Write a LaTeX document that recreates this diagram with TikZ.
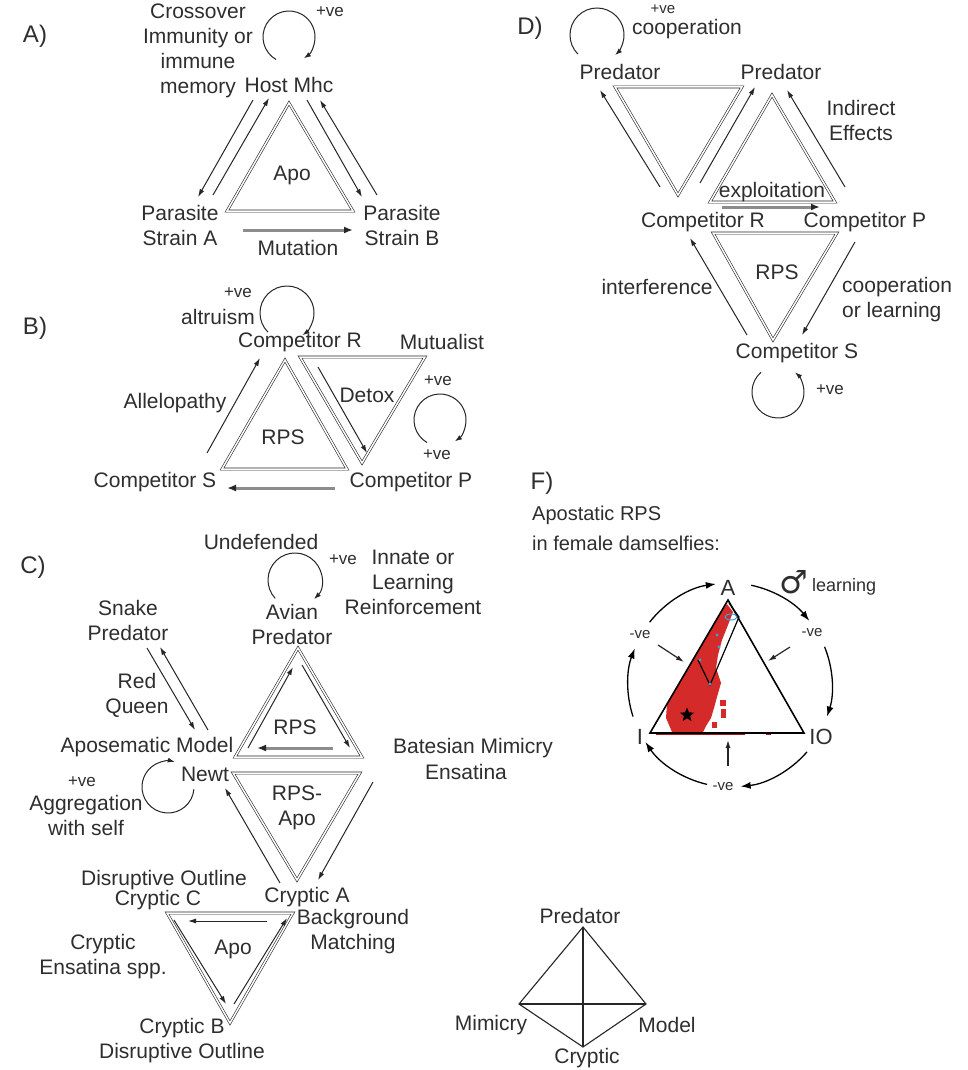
\documentclass[tikz,border=0pt]{standalone}
\usepackage{fontspec}
\setmainfont{Liberation Sans}
\newfontfamily\symfont{DejaVu Sans}
\usetikzlibrary{arrows.meta,shapes.geometric}
\definecolor{ln}{HTML}{262626}
\definecolor{txt}{HTML}{2E2E2E}
\definecolor{gline}{HTML}{8C8C8C}
\definecolor{rpsred}{HTML}{D42A2A}
\definecolor{darkred}{HTML}{A31818}
\definecolor{dotblue}{HTML}{3AA0DC}
\tikzset{
  lbl/.style={font=\fontsize{21}{25}\selectfont, text=txt, align=center, inner sep=0pt},
  smalltxt/.style={font=\fontsize{17}{20}\selectfont, text=txt, inner sep=0pt},
  tinytxt/.style={font=\fontsize{15}{18}\selectfont, text=txt, inner sep=0pt},
  panel/.style={font=\fontsize{24}{28}\selectfont, text=txt, inner sep=0pt},
  tri/.style={draw=ln, line width=0.6pt, double=white, double distance=1.5pt, line join=miter},
  arr/.style={draw=ln, line width=1pt, -{Latex[length=8pt,width=5pt]}},
  garr/.style={draw=gline, line width=3pt, -{Latex[length=9pt,width=7pt,color=ln]}},
  selfarc/.style={draw=ln, line width=1pt, -{Latex[length=7pt,width=5pt]}},
  farc/.style={draw=black, line width=1.3pt, -{Latex[length=10pt,width=7pt]}},
  tline/.style={draw=ln, line width=1.1pt},
}
\begin{document}
\begin{tikzpicture}[x=1pt,y=-1pt]
\useasboundingbox (0,0) rectangle (968,1070);
\fill[white] (0,0) rectangle (968,1070);

% ---------------- A) host / parasite strains ----------------
\node[panel] (labA) at (35,36) {A)};
\node[lbl] (cross) at (198,51) {Crossover\\Immunity or\\immune\\memory};
\node[smalltxt] (pveA) at (330,12) {+ve};
\draw[selfarc] (289,37) ++(120:26) arc[start angle=120,end angle=415,radius=26];
\node[lbl] (host) at (289,85) {Host Mhc};
\coordinate (a1) at (289,103); \coordinate (a2) at (227,211); \coordinate (a3) at (353,211);
\draw[tri] (a1) -- (a2) -- (a3) -- cycle;
\node[lbl] (apoA) at (292,175) {Apo};
\node[lbl] (parA) at (180,225) {Parasite\\Strain A};
\node[lbl] (parB) at (402,225) {Parasite\\Strain B};
\coordinate (aL1s) at (253,100); \coordinate (aL1e) at (198,197);
\coordinate (aL2s) at (213,195); \coordinate (aL2e) at (269,98);
\coordinate (aR1s) at (307,100); \coordinate (aR1e) at (362,197);
\coordinate (aR2s) at (377,195); \coordinate (aR2e) at (320,100);
\draw[arr] (aL1s) -- (aL1e);
\draw[arr] (aL2s) -- (aL2e);
\draw[arr] (aR1s) -- (aR1e);
\draw[arr] (aR2s) -- (aR2e);
\coordinate (mutS) at (243,230); \coordinate (mutE) at (353,230);
\draw[garr] (mutS) -- (mutE);
\node[lbl] (mut) at (298,248) {Mutation};

% ---------------- B) competitors and mutualist ----------------
\node[panel] (labB) at (35,328) {B)};
\node[smalltxt] (pveB1) at (238,293) {+ve};
\node[lbl] (altr) at (218,317) {altruism};
\draw[selfarc] (287,313) ++(135:27) arc[start angle=135,end angle=415,radius=27];
\node[lbl] (cR) at (300,342) {Competitor R};
\node[lbl] (mutu) at (442,342) {Mutualist};
\coordinate (b1) at (285,360); \coordinate (b2) at (222,469); \coordinate (b3) at (347,469);
\draw[tri] (b1) -- (b2) -- (b3) -- cycle;
\node[lbl] (rpsB) at (283,437) {RPS};
\coordinate (d1) at (300,357); \coordinate (d2) at (425,357); \coordinate (d3) at (362,463);
\draw[tri] (d1) -- (d2) -- (d3) -- cycle;
\node[lbl] (detox) at (367,395) {Detox};
\coordinate (dxS) at (318,367); \coordinate (dxE) at (367,453);
\draw[arr] (dxS) -- (dxE);
\node[lbl] (allel) at (175,403) {Allelopathy};
\coordinate (alS) at (207,453); \coordinate (alE) at (260,358);
\draw[arr] (alS) -- (alE);
\node[lbl] (cS) at (155,482) {Competitor S};
\node[lbl] (cP) at (411,482) {Competitor P};
\coordinate (bbS) at (335,488); \coordinate (bbE) at (227,488);
\draw[garr] (bbS) -- (bbE);
\node[smalltxt] (pveB2) at (438,381) {+ve};
\node[smalltxt] (pveB3) at (437,455) {+ve};
\draw[selfarc] (440,420) ++(120:26) arc[start angle=120,end angle=415,radius=26];

% ---------------- C) mimicry complex ----------------
\node[panel] (labC) at (33,567) {C)};
\node[lbl] (undef) at (261,542) {Undefended};
\node[smalltxt] (pveC1) at (343,560) {+ve};
\draw[selfarc] (295,580) ++(137:27) arc[start angle=137,end angle=405,radius=27];
\node[lbl] (innate) at (413,582) {Innate or\\Learning\\Reinforcement};
\node[lbl] (avian) at (292,624) {Avian\\Predator};
\node[lbl] (snake) at (128,620) {Snake\\Predator};
\coordinate (rq1s) at (147,648); \coordinate (rq1e) at (195,730);
\coordinate (rq2s) at (208,730); \coordinate (rq2e) at (160,647);
\draw[arr] (rq1s) -- (rq1e);
\draw[arr] (rq2s) -- (rq2e);
\node[lbl] (redq) at (137,695) {Red\\Queen};
\node[lbl] (apos) at (147,747) {Aposematic Model};
\coordinate (c1) at (298,648); \coordinate (c2) at (235,757); \coordinate (c3) at (362,757);
\draw[tri] (c1) -- (c2) -- (c3) -- cycle;
\coordinate (cLs) at (248,748); \coordinate (cLe) at (293,667);
\coordinate (cRs) at (302,665); \coordinate (cRe) at (350,748);
\draw[arr] (cLs) -- (cLe);
\draw[arr] (cRs) -- (cRe);
\coordinate (cBs) at (333,748); \coordinate (cBe) at (257,748);
\draw[garr] (cBs) -- (cBe);
\node[lbl] (rpsC) at (295,727) {RPS};
\node[lbl] (bates) at (473,748) {Batesian Mimicry};
\node[lbl] (ensat) at (466,772) {Ensatina};
\node[lbl] (newt) at (205,774) {Newt};
\draw[selfarc] (168,787) ++(5:26) arc[start angle=5,end angle=285,radius=26];
\node[smalltxt] (pveC2) at (82,782) {+ve};
\node[lbl] (aggr) at (86,815) {Aggregation\\with self};
\coordinate (e1) at (233,773); \coordinate (e2) at (360,773); \coordinate (e3) at (297,880);
\draw[tri] (e1) -- (e2) -- (e3) -- cycle;
\node[lbl] (rpsapo) at (297,808) {RPS-\\Apo};
\coordinate (eLs) at (280,883); \coordinate (eLe) at (225,788);
\coordinate (eRs) at (373,782); \coordinate (eRe) at (318,880);
\draw[arr] (eLs) -- (eLe);
\draw[arr] (eRs) -- (eRe);
\node[lbl] (disr1) at (164,880) {Disruptive Outline};
\node[lbl] (crC) at (158,900) {Cryptic C};
\node[lbl] (crA) at (307,897) {Cryptic A};
\node[lbl] (backg) at (353,932) {Background\\Matching};
\node[lbl] (crEns) at (103,957) {Cryptic\\Ensatina spp.};
\coordinate (f1) at (167,913); \coordinate (f2) at (293,913); \coordinate (f3) at (230,1023);
\draw[tri] (f1) -- (f2) -- (f3) -- cycle;
\node[lbl] (apoC) at (233,949) {Apo};
\coordinate (fTs) at (267,921); \coordinate (fTe) at (188,921);
\coordinate (fLs) at (174,920); \coordinate (fLe) at (226,1004);
\coordinate (fRs) at (234,1004); \coordinate (fRe) at (287,918);
\draw[arr] (fTs) -- (fTe);
\draw[arr] (fLs) -- (fLe);
\draw[arr] (fRs) -- (fRe);
\node[lbl] (crB) at (182,1028) {Cryptic B};
\node[lbl] (disr2) at (182,1053) {Disruptive Outline};

% ---------------- D) predators and competitors ----------------
\node[panel] (labD) at (530,28) {D)};
\draw[selfarc] (597,35) ++(135:27) arc[start angle=135,end angle=408,radius=27];
\node[tinytxt] (pveD1) at (663,9) {+ve};
\node[lbl] (coop1) at (687,29) {cooperation};
\node[lbl] (predL) at (620,72) {Predator};
\node[lbl] (predR) at (781,72) {Predator};
\coordinate (g1) at (615,87); \coordinate (g2) at (742,87); \coordinate (g3) at (678,195);
\draw[tri] (g1) -- (g2) -- (g3) -- cycle;
\coordinate (gLs) at (660,187); \coordinate (gLe) at (600,90);
\coordinate (gRs) at (700,183); \coordinate (gRe) at (755,87);
\draw[arr] (gLs) -- (gLe);
\draw[arr] (gRs) -- (gRe);
\coordinate (h1) at (772,95); \coordinate (h2) at (710,202); \coordinate (h3) at (835,202);
\draw[tri] (h1) -- (h2) -- (h3) -- cycle;
\coordinate (hRs) at (845,187); \coordinate (hRe) at (787,90);
\draw[arr] (hRs) -- (hRe);
\node[lbl] (indir) at (861,120) {Indirect\\Effects};
\node[lbl] (explo) at (772,192) {exploitation};
\coordinate (exS) at (722,207); \coordinate (exE) at (820,207);
\draw[garr] (exS) -- (exE);
\node[lbl] (dcR) at (703,222) {Competitor R};
\node[lbl] (dcP) at (865,222) {Competitor P};
\coordinate (k1) at (713,233); \coordinate (k2) at (837,233); \coordinate (k3) at (773,340);
\draw[tri] (k1) -- (k2) -- (k3) -- cycle;
\node[lbl] (rpsD) at (777,272) {RPS};
\coordinate (kLs) at (747,335); \coordinate (kLe) at (690,238);
\coordinate (kRs) at (855,242); \coordinate (kRe) at (802,335);
\draw[arr] (kLs) -- (kLe);
\draw[arr] (kRs) -- (kRe);
\node[lbl] (interf) at (657,287) {interference};
\node[lbl, align=left, anchor=west] (coop2) at (842,300) {cooperation\\or learning};
\node[lbl] (dcS) at (797,353) {Competitor S};
\draw[selfarc] (778,392) ++(229:26) arc[start angle=229,end angle=-49,radius=26];
\node[smalltxt] (pveD2) at (830,390) {+ve};

% ---------------- F) damselfly morph space ----------------
\node[panel] (labF) at (542,483) {F)};
\node[lbl, font=\fontsize{20}{24}\selectfont, anchor=west] (apost) at (532,515) {Apostatic RPS};
\node[lbl, font=\fontsize{20}{24}\selectfont, anchor=west] (female) at (532,543) {in female damselfies:};
% morph frequencies
\fill[rpsred] (727,604) -- (733,612) -- (728,625) -- (722,640) -- (718,655) -- (716,668)
  -- (721,683) -- (717,697) -- (714,708) -- (711,718) -- (706,726) -- (703,732)
  -- (672,732) -- (666,718) -- (667,704) -- (699,650) -- (716,620) -- cycle;
\fill[rpsred] (720,700) rectangle (726,706);
\fill[rpsred] (721,709) rectangle (726,718);
\fill[rpsred] (712,722) rectangle (717,728);
\draw[darkred, line width=3pt] (656,733) -- (745,733);
\draw[darkred, line width=3pt] (766,733) -- (771,733);
\coordinate (fA) at (728,600); \coordinate (fI) at (650,733); \coordinate (fIO) at (804,733);
\draw[draw=black, line width=1.6pt, line join=miter] (fA) -- (fI) -- (fIO) -- cycle;
\draw[black, line width=1.2pt] (698,660) -- (710,685) -- (739,617) -- (729,603);
\fill[dotblue] (717,635) circle (1.6);
\fill[dotblue] (719,647) circle (1.6);
\fill[dotblue] (700,660) circle (1.6);
\fill[dotblue] (710,684) circle (1.6);
\draw[dotblue, line width=1pt] (731,617) ellipse [x radius=6, y radius=3];
\node[star, star points=5, star point ratio=2.3, fill=black, inner sep=0pt, minimum size=15pt] (best) at (687,715) {};
\node[lbl, font=\fontsize{22}{24}\selectfont] (vA) at (728,588) {A};
\node[lbl, font=\fontsize{22}{24}\selectfont] (vI) at (640,737) {I};
\node[lbl, font=\fontsize{22}{24}\selectfont] (vIO) at (821,737) {IO};
\node[tinytxt] (nve1) at (640,635) {-ve};
\node[tinytxt] (nve2) at (812,633) {-ve};
\node[tinytxt] (nve3) at (723,787) {-ve};
\node[font=\symfont\fontsize{32}{32}\selectfont, text=txt, inner sep=0pt] (male) at (794,582) {♂};
\node[lbl, font=\fontsize{18}{20}\selectfont, anchor=west] (learn) at (812,587) {learning};
\draw[farc] (730,685) ++(218:102) arc[start angle=218,end angle=262,radius=102];
\draw[farc] (730,685) ++(282:102) arc[start angle=282,end angle=321,radius=102];
\draw[farc] (730,685) ++(338:102) arc[start angle=338,end angle=378,radius=102];
\draw[farc] (730,685) ++(41:102) arc[start angle=41,end angle=84,radius=102];
\draw[farc] (730,685) ++(103:102) arc[start angle=103,end angle=146,radius=102];
\draw[farc] (730,685) ++(162:102) arc[start angle=162,end angle=201,radius=102];
\coordinate (inLs) at (658,645); \coordinate (inLe) at (684,662);
\coordinate (inRs) at (790,647); \coordinate (inRe) at (768,661);
\coordinate (inBs) at (728,766); \coordinate (inBe) at (728,740);
\draw[arr, line width=1.2pt] (inLs) -- (inLe);
\draw[arr, line width=1.2pt] (inRs) -- (inRe);
\draw[arr, line width=1.2pt] (inBs) -- (inBe);

% ---------------- strategy tetrahedron ----------------
\coordinate (tP) at (583,927); \coordinate (tL) at (519,1004);
\coordinate (tR) at (646,1004); \coordinate (tB) at (583,1047);
\draw[tline, line join=miter] (tP) -- (tL) -- (tB) -- (tR) -- cycle;
\draw[tline] (tP) -- (tB);
\draw[tline, line width=2pt] (tL) -- (tR);
\node[lbl] (tpred) at (580,916) {Predator};
\node[lbl] (tmim) at (491,1025) {Mimicry};
\node[lbl] (tmod) at (667,1025) {Model};
\node[lbl] (tcry) at (587,1058) {Cryptic};
\end{tikzpicture}
\end{document}
